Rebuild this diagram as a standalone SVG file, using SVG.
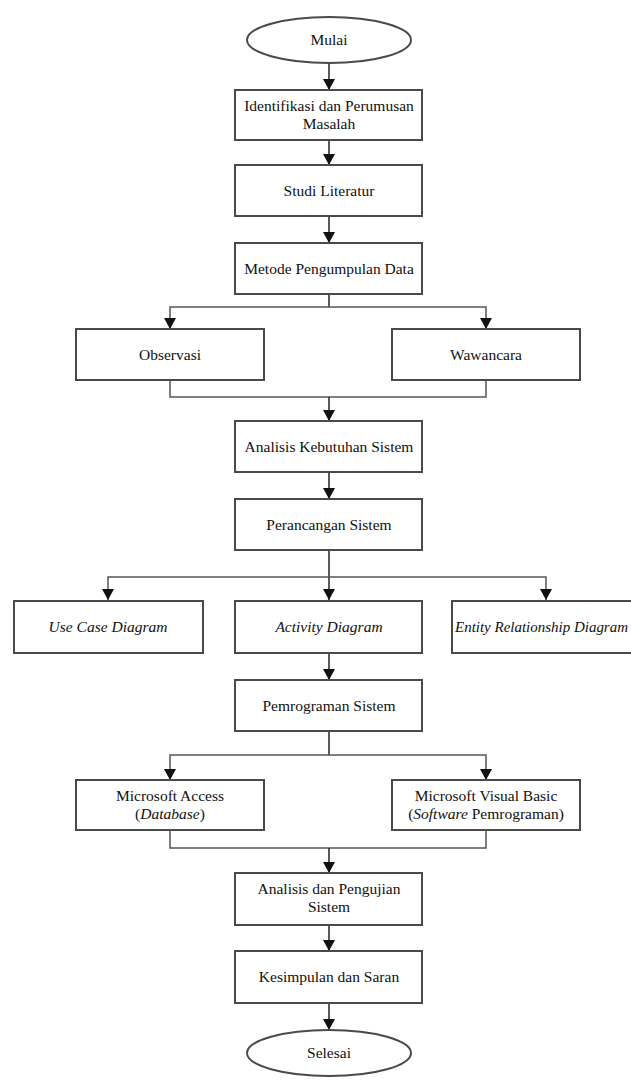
<svg xmlns="http://www.w3.org/2000/svg" width="631" height="1081" viewBox="0 0 631 1081">
<style>
.n{fill:#fff;stroke:#4a4a4a;stroke-width:2}
.t{font-family:'Liberation Serif','Times New Roman','DejaVu Serif',serif;font-size:15.5px;fill:#111;text-anchor:middle}
.i{font-style:italic}
.c{fill:none;stroke:#222;stroke-width:1.5}
.g{fill:none;stroke:#555;stroke-width:1.5}
</style>
<defs>
<marker id="d" markerWidth="14" markerHeight="14" refX="7" refY="13" markerUnits="userSpaceOnUse" viewBox="0 0 14 14">
<path d="M1,2 L13,2 L7,13 Z" fill="#111"/>
</marker>
</defs>
<rect width="631" height="1081" fill="#fff"/>
<g id="connectors">
<path class="c" d="M329,63 V90" marker-end="url(#d)"/>
<path class="c" d="M329,140 V165" marker-end="url(#d)"/>
<path class="c" d="M329,216 V243" marker-end="url(#d)"/>
<path class="c" d="M329,294 V307"/>
<path class="g" d="M329,307 H170 V329" marker-end="url(#d)"/>
<path class="g" d="M329,307 H486 V329" marker-end="url(#d)"/>
<path class="g" d="M170,380 V397 H486 V380"/>
<path class="c" d="M329,397 V421" marker-end="url(#d)"/>
<path class="c" d="M329,472 V499" marker-end="url(#d)"/>
<path class="c" d="M329,550 V600" marker-end="url(#d)"/>
<path class="g" d="M329,577 H108 V600" marker-end="url(#d)"/>
<path class="g" d="M329,577 H546 V600" marker-end="url(#d)"/>
<path class="c" d="M329,653 V680" marker-end="url(#d)"/>
<path class="c" d="M329,731 V755"/>
<path class="g" d="M329,755 H170 V780" marker-end="url(#d)"/>
<path class="g" d="M329,755 H486 V780" marker-end="url(#d)"/>
<path class="g" d="M170,830 V848 H486 V830"/>
<path class="c" d="M329,848 V873" marker-end="url(#d)"/>
<path class="c" d="M329,925 V951" marker-end="url(#d)"/>
<path class="c" d="M329,1003 V1030" marker-end="url(#d)"/>
</g>
<g id="mulai"><ellipse class="n" cx="329" cy="40" rx="82" ry="23"/><text class="t" x="329" y="45">Mulai</text></g>
<g id="identifikasi"><rect class="n" x="235" y="90" width="187" height="50"/><text class="t" x="329" y="111">Identifikasi dan Perumusan</text><text class="t" x="329" y="129">Masalah</text></g>
<g id="studi"><rect class="n" x="235" y="165" width="187" height="51"/><text class="t" x="329" y="195.5">Studi Literatur</text></g>
<g id="metode"><rect class="n" x="235" y="243" width="187" height="51"/><text class="t" x="329" y="273.5">Metode Pengumpulan Data</text></g>
<g id="observasi"><rect class="n" x="76" y="329" width="188" height="51"/><text class="t" x="170" y="359.5">Observasi</text></g>
<g id="wawancara"><rect class="n" x="392" y="329" width="188" height="51"/><text class="t" x="486" y="359.5">Wawancara</text></g>
<g id="analisis-kebutuhan"><rect class="n" x="235" y="421" width="187" height="51"/><text class="t" x="329" y="451.5">Analisis Kebutuhan Sistem</text></g>
<g id="perancangan"><rect class="n" x="235" y="499" width="187" height="51"/><text class="t" x="329" y="529.5">Perancangan Sistem</text></g>
<g id="usecase"><rect class="n" x="14" y="601" width="189" height="52"/><text class="t i" x="108" y="632">Use Case Diagram</text></g>
<g id="activity"><rect class="n" x="235" y="601" width="187" height="52"/><text class="t i" x="329" y="632">Activity Diagram</text></g>
<g id="erd"><rect class="n" x="452" y="601" width="190" height="52"/><text class="t i" x="455" y="632" style="text-anchor:start;font-size:15px" textLength="173" lengthAdjust="spacingAndGlyphs">Entity Relationship Diagram</text></g>
<g id="pemrograman"><rect class="n" x="235" y="680" width="187" height="51"/><text class="t" x="329" y="710.5">Pemrograman Sistem</text></g>
<g id="access"><rect class="n" x="76" y="780" width="188" height="50"/><text class="t" x="170" y="801">Microsoft Access</text><text class="t" x="170" y="819">(<tspan class="i">Database</tspan>)</text></g>
<g id="vb"><rect class="n" x="392" y="780" width="188" height="50"/><text class="t" x="486" y="801">Microsoft Visual Basic</text><text class="t" x="486" y="819">(<tspan class="i">Software</tspan> Pemrograman)</text></g>
<g id="analisis-pengujian"><rect class="n" x="235" y="873" width="187" height="52"/><text class="t" x="329" y="894">Analisis dan Pengujian</text><text class="t" x="329" y="912">Sistem</text></g>
<g id="kesimpulan"><rect class="n" x="235" y="951" width="187" height="52"/><text class="t" x="329" y="982">Kesimpulan dan Saran</text></g>
<g id="selesai"><ellipse class="n" cx="329" cy="1053" rx="82" ry="23"/><text class="t" x="329" y="1058">Selesai</text></g>
</svg>
